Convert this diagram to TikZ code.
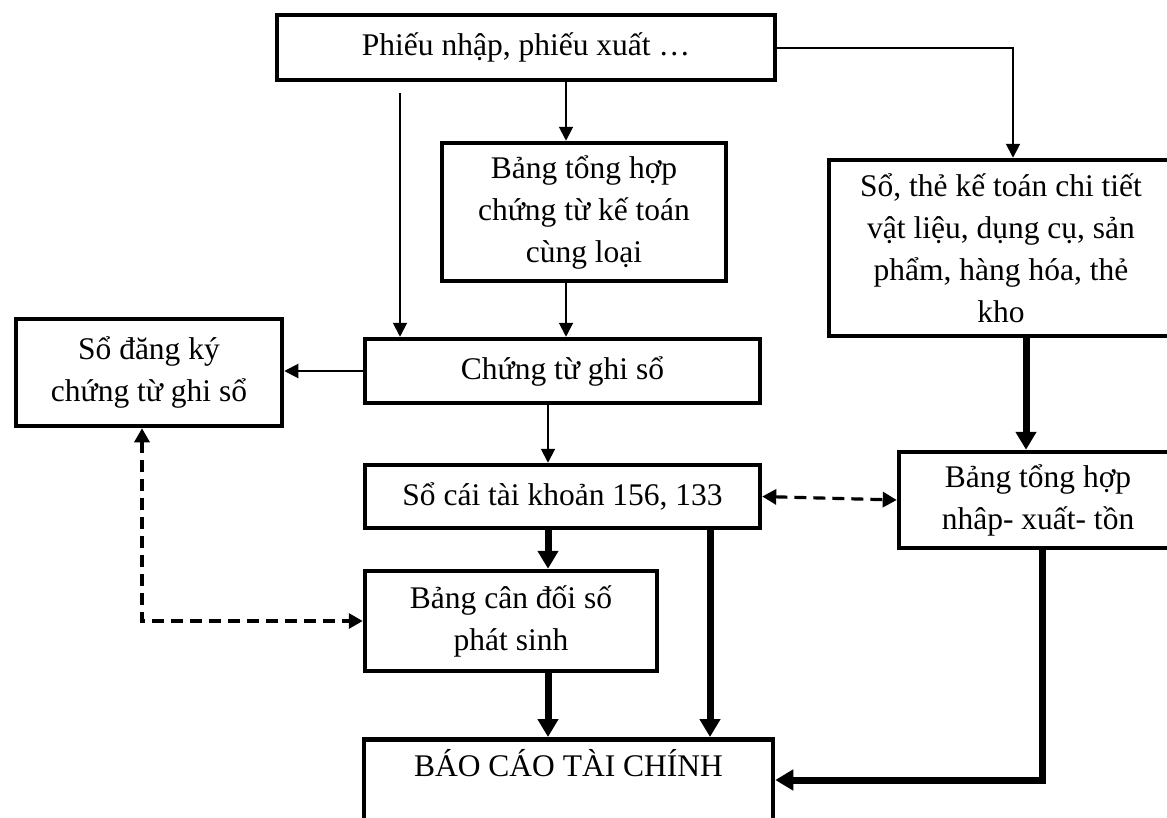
\documentclass[tikz,border=0pt]{standalone}
\usepackage{fontspec}
\setmainfont{Liberation Serif}
\usetikzlibrary{arrows.meta}

\begin{document}
\begin{tikzpicture}[x=1pt,y=-1pt,
  box/.style={draw, line width=4.5pt, inner sep=0pt, align=center,
    font=\fontsize{31.5}{42}\selectfont},
  thin/.style={line width=2pt, -{Triangle[width=14pt,length=14pt]}},
  thick/.style={line width=7pt, -{Triangle[width=20pt,length=18pt]}},
  dashline/.style={line width=3.2pt, dash pattern=on 12pt off 7pt,
    {Triangle[width=15pt,length=14pt]}-{Triangle[width=15pt,length=14pt]}}]

\useasboundingbox (0,0) rectangle (1167,817);
\fill[white] (0,0) rectangle (1167,817);
\clip (0,0) rectangle (1167,817);

% boxes
\node[box, minimum width=498pt, minimum height=65pt] (top) at (526,47.5)
  {Phiếu nhập, phiếu xuất …};
\node[box, minimum width=284pt, minimum height=138pt] (btc) at (584,212)
  {Bảng tổng hợp\\chứng từ kế toán\\cùng loại};
\node[box, minimum width=395pt, minimum height=64pt] (ctgs) at (562.5,371)
  {Chứng từ ghi sổ};
\node[box, minimum width=266pt, minimum height=107pt] (sdk) at (149,372.5)
  {Sổ đăng ký\\chứng từ ghi sổ};
\node[box, minimum width=344pt, minimum height=176pt] (sothe) at (1001,248)
  {Sổ, thẻ kế toán chi tiết\\vật liệu, dụng cụ, sản\\phẩm, hàng hóa, thẻ\\kho};
\node[box, minimum width=395pt, minimum height=63pt] (socai) at (562.5,496.5)
  {Sổ cái tài khoản 156, 133};
\node[box, minimum width=292pt, minimum height=100pt] (bcd) at (511,621)
  {Bảng cân đối số\\phát sinh};
\node[box, minimum width=278pt, minimum height=96pt] (nxt) at (1038,500)
  {Bảng tổng hợp\\nhâp- xuất- tồn};
\node[box, anchor=north, minimum width=409pt, inner ysep=15pt,
  text height=22pt, text depth=61pt] (bctc) at (568.5,737)
  {BÁO CÁO TÀI CHÍNH};

% routing columns and rows
\coordinate (c400) at (400,93);
\coordinate (c566) at (566,0);
\coordinate (c548) at (548,0);
\coordinate (c710) at (710,0);
\coordinate (c1013) at (1013,0);
\coordinate (c1026) at (1026,0);
\coordinate (c1042) at (1042,0);
\coordinate (c142) at (142,0);
\coordinate (r780) at (0,780);

% thin arrows
\draw[thin] (c400) -- (c400 |- ctgs.north);
\draw[thin] (top.south -| c566) -- (btc.north -| c566);
\draw[thin] (top.east) -| (sothe.north -| c1013);
\draw[thin] (btc.south -| c566) -- (ctgs.north -| c566);
\draw[thin] (ctgs.west) -- (ctgs.west -| sdk.east);
\draw[thin] (ctgs.south -| c548) -- (socai.north -| c548);

% thick arrows
\draw[thick] (socai.south -| c548) -- (bcd.north -| c548);
\draw[thick] (bcd.south -| c548) -- (bctc.north -| c548);
\draw[thick] (socai.south -| c710) -- (bctc.north -| c710);
\draw[thick] (sothe.south -| c1026) -- (nxt.north -| c1026);
\draw[thick] (nxt.south -| c1042) -- (c1042 |- r780) -- (bctc.east |- r780);

% dashed two-way links
\draw[dashline] (sdk.south -| c142) |- (bcd.west);
\draw[dashline] (socai.east) -- (nxt.west);
\end{tikzpicture}
\end{document}
